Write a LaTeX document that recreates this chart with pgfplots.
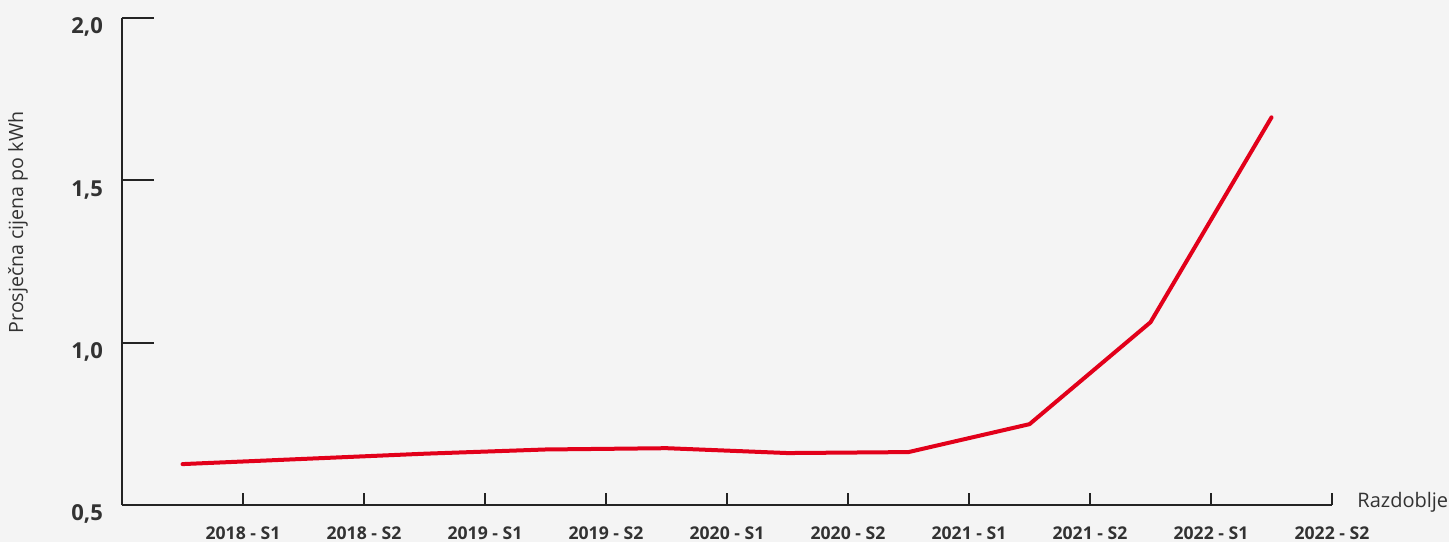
\documentclass[border=0pt]{standalone}
\usepackage{fontspec}
\setmainfont{Open Sans}
\usepackage{pgfplots}
\pgfplotsset{compat=1.18}
\definecolor{bg}{RGB}{244,244,244}
\definecolor{axc}{RGB}{35,35,35}
\definecolor{txt}{RGB}{50,50,50}
\definecolor{linered}{RGB}{226,0,26}
\begin{document}
\begin{tikzpicture}
\fill[bg] (-61pt,-18.5pt) rectangle (663.5pt,252.5pt);
\useasboundingbox (-61pt,-18.5pt) rectangle (663.5pt,252.5pt);
\begin{axis}[at={(0,0)}, anchor=south west, scale only axis,
  width=605pt, height=243.5pt,
  xmin=0, xmax=10, ymin=0.5, ymax=2.0,
  axis x line*=bottom, axis y line*=left,
  axis line style={axc, line width=1pt},
  clip=false,
  tick align=inside,
  xtick={1,2,3,4,5,6,7,8,9,10},
  xticklabels={2018 - S1,2018 - S2,2019 - S1,2019 - S2,2020 - S1,2020 - S2,2021 - S1,2021 - S2,2022 - S1,2022 - S2},
  ytick={0.5,1.0,1.5,2.0},
  xtick style={axc, line width=1pt, /pgfplots/major tick length=6pt},
  ytick style={axc, line width=1pt, /pgfplots/major tick length=16pt},
  xticklabel style={font=\fontsize{8.8}{10}\selectfont\bfseries, text=txt, inner sep=0pt, yshift=-10.9pt},
  yticklabel style={font=\fontsize{11}{12}\selectfont\bfseries, text=txt, xshift=-6pt, yshift=-4.7pt},
  /pgf/number format/assume math mode=true,
  /pgf/number format/.cd, fixed, fixed zerofill, precision=1, use comma,
]
\addplot[linered, line width=2pt, line join=round, line cap=round] coordinates {
(0.5,0.626) (1.5,0.642) (2.5,0.658) (3.5,0.671) (4.5,0.675) (5.5,0.660) (6.5,0.663) (7.5,0.749) (8.5,1.063) (9.5,1.694)
};
\node[xshift=-52pt, rotate=90, font=\fontsize{9.8}{10}\selectfont, text=txt] at (rel axis cs:0,0.58) {Prosječna cijena po kWh};
\node[anchor=base west, font=\fontsize{10}{11}\selectfont, text=txt, inner sep=0pt] at (rel axis cs:1,0) [xshift=12.5pt, yshift=-1pt] {Razdoblje};
\end{axis}
\end{tikzpicture}
\end{document}
